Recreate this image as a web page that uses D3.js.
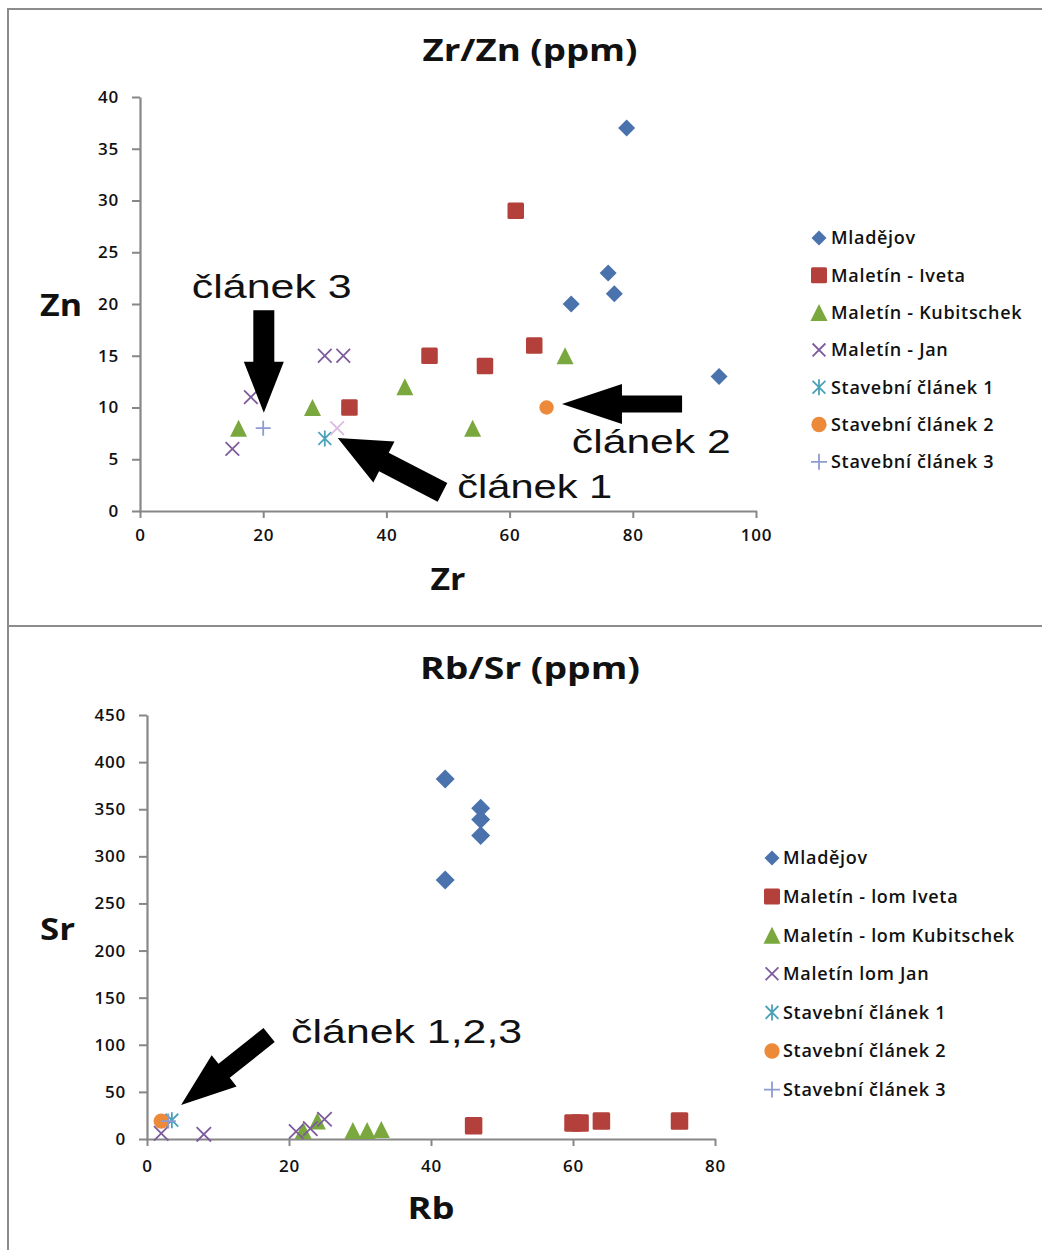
<!DOCTYPE html>
<html><head><meta charset="utf-8">
<script src="https://cdn.jsdelivr.net/npm/d3@7"></script>
<style>
html,body{margin:0;padding:0;background:#fff;}
svg{display:block;}
</style></head>
<body>
<svg id="c" width="1042" height="1250"></svg>
<script>
// ---------- DATA: chart 1 (Zr/Zn) ----------
const zrznSeries = ["Mladějov","Maletín - Iveta","Maletín - Kubitschek","Maletín - Jan","Stavební článek 1","Stavební článek 2","Stavební článek 3"];
const zrzn_mladejov = [[79,37],[76,23],[77,21],[70,20],[94,13]];
const zrzn_iveta = [[61,29],[47,15],[56,14],[64,16],[34,10]];
const zrzn_kubitschek = [[16,8],[28,10],[43,12],[54,8],[69,15]];
const zrzn_jan = [[15,6],[18,11],[30,15],[33,15]];
const zrzn_janFaint = [[32,8]];
const zrzn_clanek1 = [[30,7]];
const zrzn_clanek2 = [[66,10]];
const zrzn_clanek3 = [[20,8]];
const zrTicks = [0,20,40,60,80,100];
const znTicks = [0,5,10,15,20,25,30,35,40];

// ---------- DATA: chart 2 (Rb/Sr) ----------
const rbsrSeries = ["Mladějov","Maletín - lom Iveta","Maletín - lom Kubitschek","Maletín lom Jan","Stavební článek 1","Stavební článek 2","Stavební článek 3"];
const rbsr_mladejov = [[42,382],[47,351],[47,339],[47,322],[42,275]];
const rbsr_iveta = [[46,14],[60,17],[61,17],[64,19],[75,19]];
const rbsr_kubitschek = [[22,9],[24,19],[29,9],[31,9],[33,10]];
const rbsr_jan = [[2,6],[8,5],[21,8],[23,11],[25,21]];
const rbsr_clanek1 = [[3.5,20]];
const rbsr_clanek2 = [[2,19]];
const rbsr_clanek3 = [[3,19]];
const rbTicks = [0,20,40,60,80];
const srTicks = [0,50,100,150,200,250,300,350,400,450];

// annotations (data coordinates)
const zrznArrows = [
  {tip:[20.1,9.5], tail:[20.1,19.4], shaft:21, head:40, headL:51},
  {tip:[68.5,10.34], tail:[88.0,10.34], shaft:17, head:40, headL:60},
  {tip:[32.1,7.05], tail:[49.1,1.8], shaft:21, head:46, headL:52}
];
const zrznLabels = [
  {text:"článek 3", at:[8.4,20.6], w:160},
  {text:"článek 2", at:[70.1,5.6], w:159},
  {text:"článek 1", at:[51.5,1.26], w:155}
];
const rbsrArrows = [
  {tip:[4.8,36], tail:[17.2,110.4], shaft:18, head:40, headL:55}
];
const rbsrLabels = [
  {text:"článek 1,2,3", at:[20.3,101.9], w:231}
];

// ---------- STYLE ----------
const C = {
  blue:"#4a72ad", red:"#b3403b", green:"#7aa83e", purple:"#7d5b9c",
  cyan:"#4aa2b8", orange:"#ec8a3a", plus:"#8e9bd0", faint:"#d9bde2",
  axis:"#878787", frame:"#8c8c8c", text:"#1a1a1a"
};
const svg = d3.select("#c");

// frame
svg.append("path").attr("d","M8,1250 V9 H1042").attr("fill","none").attr("stroke",C.frame).attr("stroke-width",2);
svg.append("line").attr("x1",8).attr("x2",1042).attr("y1",626).attr("y2",626).attr("stroke",C.frame).attr("stroke-width",2);

// marker painters
function marker(g, type, x, y, s, color){
  const h = s/2;
  if(type==="diamond"){
    g.append("path").attr("d",`M${x},${y-h}L${x+h},${y}L${x},${y+h}L${x-h},${y}Z`).attr("fill",color);
  } else if(type==="square"){
    g.append("rect").attr("x",x-h).attr("y",y-h).attr("width",s).attr("height",s).attr("fill",color).attr("rx",1.5);
  } else if(type==="triangle"){
    g.append("path").attr("d",`M${x},${y-h}L${x+h},${y+h}L${x-h},${y+h}Z`).attr("fill",color);
  } else if(type==="x"){
    const k=h*0.8;
    g.append("path").attr("d",`M${x-k},${y-k}L${x+k},${y+k}M${x+k},${y-k}L${x-k},${y+k}`).attr("stroke",color).attr("stroke-width",1.8).attr("fill","none");
  } else if(type==="star"){
    const k=h*0.8;
    g.append("path").attr("d",`M${x-k},${y-k}L${x+k},${y+k}M${x+k},${y-k}L${x-k},${y+k}M${x},${y-h}L${x},${y+h}`).attr("stroke",color).attr("stroke-width",1.8).attr("fill","none");
  } else if(type==="circle"){
    g.append("circle").attr("cx",x).attr("cy",y).attr("r",h*0.9).attr("fill",color);
  } else if(type==="plus"){
    g.append("path").attr("d",`M${x-h},${y}L${x+h},${y}M${x},${y-h}L${x},${y+h}`).attr("stroke",color).attr("stroke-width",1.8).attr("fill","none");
  }
}

function arrow(g, tip, tail, shaftW, headW, headL){
  const dx=tail[0]-tip[0], dy=tail[1]-tip[1], L=Math.hypot(dx,dy);
  const ux=dx/L, uy=dy/L, nx=-uy, ny=ux;
  const bx=tip[0]+ux*headL, by=tip[1]+uy*headL;
  const p=[
    [tip[0],tip[1]],
    [bx+nx*headW/2, by+ny*headW/2],
    [bx+nx*shaftW/2, by+ny*shaftW/2],
    [tail[0]+nx*shaftW/2, tail[1]+ny*shaftW/2],
    [tail[0]-nx*shaftW/2, tail[1]-ny*shaftW/2],
    [bx-nx*shaftW/2, by-ny*shaftW/2],
    [bx-nx*headW/2, by-ny*headW/2]
  ];
  g.append("path").attr("d","M"+p.map(q=>q.join(",")).join("L")+"Z").attr("fill","#000");
}

function stretchText(sel, target){
  sel.attr("textLength", target).attr("lengthAdjust","spacingAndGlyphs");
}

function chart(cfg){
  const g = svg.append("g");
  const x = d3.scaleLinear().domain(cfg.xDomain).range(cfg.xRange);
  const y = d3.scaleLinear().domain(cfg.yDomain).range(cfg.yRange);

  // axes
  const ax = g.append("g").attr("transform",`translate(0,${cfg.yRange[0]})`)
    .call(d3.axisBottom(x).tickValues(cfg.xTicks).tickSize(7).tickPadding(cfg.xPad).tickSizeOuter(0));
  const ay = g.append("g").attr("transform",`translate(${cfg.xRange[0]},0)`)
    .call(d3.axisLeft(y).tickValues(cfg.yTicks).tickSize(8).tickPadding(cfg.yPad).tickSizeOuter(0));
  [ax,ay].forEach(a=>{
    a.select(".domain").attr("stroke",C.axis).attr("stroke-width",2.2);
    a.selectAll(".tick line").attr("stroke",C.axis).attr("stroke-width",2);
    a.selectAll(".tick text").attr("fill","#111").style("font-family","'Open Sans'")
      .style("font-size","17px").style("font-weight","600").style("letter-spacing","0.8px");
  });
  ax.select(".domain").attr("d",`M${cfg.xRange[0]-1},0.5H${cfg.xRange[1]+1}`);

  // points
  const pg = g.append("g");
  cfg.series.forEach(s=>{
    s.data.forEach(d=>marker(pg, s.type, x(d[0]), y(d[1]), s.size, s.color));
  });

  // annotations
  cfg.arrows.forEach(a=>arrow(g,[x(a.tip[0]),y(a.tip[1])],[x(a.tail[0]),y(a.tail[1])],a.shaft,a.head,a.headL));
  cfg.labels.forEach(l=>{
    const t=g.append("text").attr("x",x(l.at[0])).attr("y",y(l.at[1]))
      .style("font-family","'Liberation Sans', Arial, sans-serif").style("font-size","33px").attr("fill","#111").text(l.text);
    stretchText(t,l.w);
  });

  // titles
  const tt=g.append("text").attr("x",cfg.title.x).attr("y",cfg.title.y).attr("text-anchor","middle")
    .style("font-family","'Open Sans'").style("font-weight","700").style("font-size","30px").attr("fill","#111").text(cfg.title.text);
  stretchText(tt,cfg.title.w);
  cfg.axisTitles.forEach(a=>{
    const t=g.append("text").attr("x",a.x).attr("y",a.y).attr("text-anchor",a.anchor)
      .style("font-family","'Open Sans'").style("font-weight","700").style("font-size","30px").attr("fill","#111").text(a.text);
    stretchText(t,a.w);
  });

  // legend
  const lg = g.append("g");
  cfg.series.filter(s=>s.legend!==false).forEach((s,i)=>{
    const yy = cfg.legend.y0 + i*cfg.legend.dy;
    marker(lg, s.type, cfg.legend.mx, yy, s.legendSize||14, s.color);
    lg.append("text").attr("x",cfg.legend.tx).attr("y",yy).attr("dy","0.36em")
      .style("font-family","'Open Sans'").style("font-size","18px").style("font-weight","600")
      .style("letter-spacing","0.7px").attr("fill","#111").text(s.name);
  });
}

chart({
  xDomain:[0,100], xRange:[140,756], yDomain:[0,40], yRange:[511,97],
  xTicks:zrTicks, yTicks:znTicks, xPad:11, yPad:13,
  series:[
    {name:zrznSeries[0], data:zrzn_mladejov, type:"diamond", size:17, legendSize:15, color:C.blue},
    {name:zrznSeries[1], data:zrzn_iveta, type:"square", size:16.5, legendSize:16, color:C.red},
    {name:zrznSeries[2], data:zrzn_kubitschek, type:"triangle", size:17, legendSize:17, color:C.green},
    {name:zrznSeries[3], data:zrzn_jan, type:"x", size:17, legendSize:16, color:C.purple},
    {name:zrznSeries[4], data:zrzn_clanek1, type:"star", size:16, legendSize:16, color:C.cyan},
    {name:zrznSeries[5], data:zrzn_clanek2, type:"circle", size:16, legendSize:17, color:C.orange},
    {name:zrznSeries[6], data:zrzn_clanek3, type:"plus", size:15, legendSize:16, color:C.plus},
    {name:"", data:zrzn_janFaint, type:"x", size:17, color:C.faint, legend:false}
  ],
  arrows:zrznArrows, labels:zrznLabels,
  title:{text:"Zr/Zn (ppm)", x:530, y:61, w:215},
  axisTitles:[{text:"Zn", x:40, y:316, anchor:"start", w:42},{text:"Zr", x:448, y:590, anchor:"middle", w:35}],
  legend:{mx:819, tx:831, y0:238, dy:37.3}
});

chart({
  xDomain:[0,80], xRange:[147,715], yDomain:[0,450], yRange:[1139,715],
  xTicks:rbTicks, yTicks:srTicks, xPad:14, yPad:13,
  series:[
    {name:rbsrSeries[0], data:rbsr_mladejov, type:"diamond", size:19, legendSize:15, color:C.blue},
    {name:rbsrSeries[1], data:rbsr_iveta, type:"square", size:17.5, legendSize:16, color:C.red},
    {name:rbsrSeries[2], data:rbsr_kubitschek, type:"triangle", size:17, legendSize:17, color:C.green},
    {name:rbsrSeries[3], data:rbsr_jan, type:"x", size:18, legendSize:16, color:C.purple},
    {name:rbsrSeries[4], data:rbsr_clanek1, type:"star", size:16, legendSize:16, color:C.cyan},
    {name:rbsrSeries[5], data:rbsr_clanek2, type:"circle", size:17, legendSize:17, color:C.orange},
    {name:rbsrSeries[6], data:rbsr_clanek3, type:"plus", size:15, legendSize:16, color:C.plus}
  ],
  arrows:rbsrArrows, labels:rbsrLabels,
  title:{text:"Rb/Sr (ppm)", x:530, y:679, w:220},
  axisTitles:[{text:"Sr", x:40, y:940, anchor:"start", w:35},{text:"Rb", x:431, y:1219, anchor:"middle", w:47}],
  legend:{mx:772, tx:783, y0:858, dy:38.6}
});
</script>
</body></html>
